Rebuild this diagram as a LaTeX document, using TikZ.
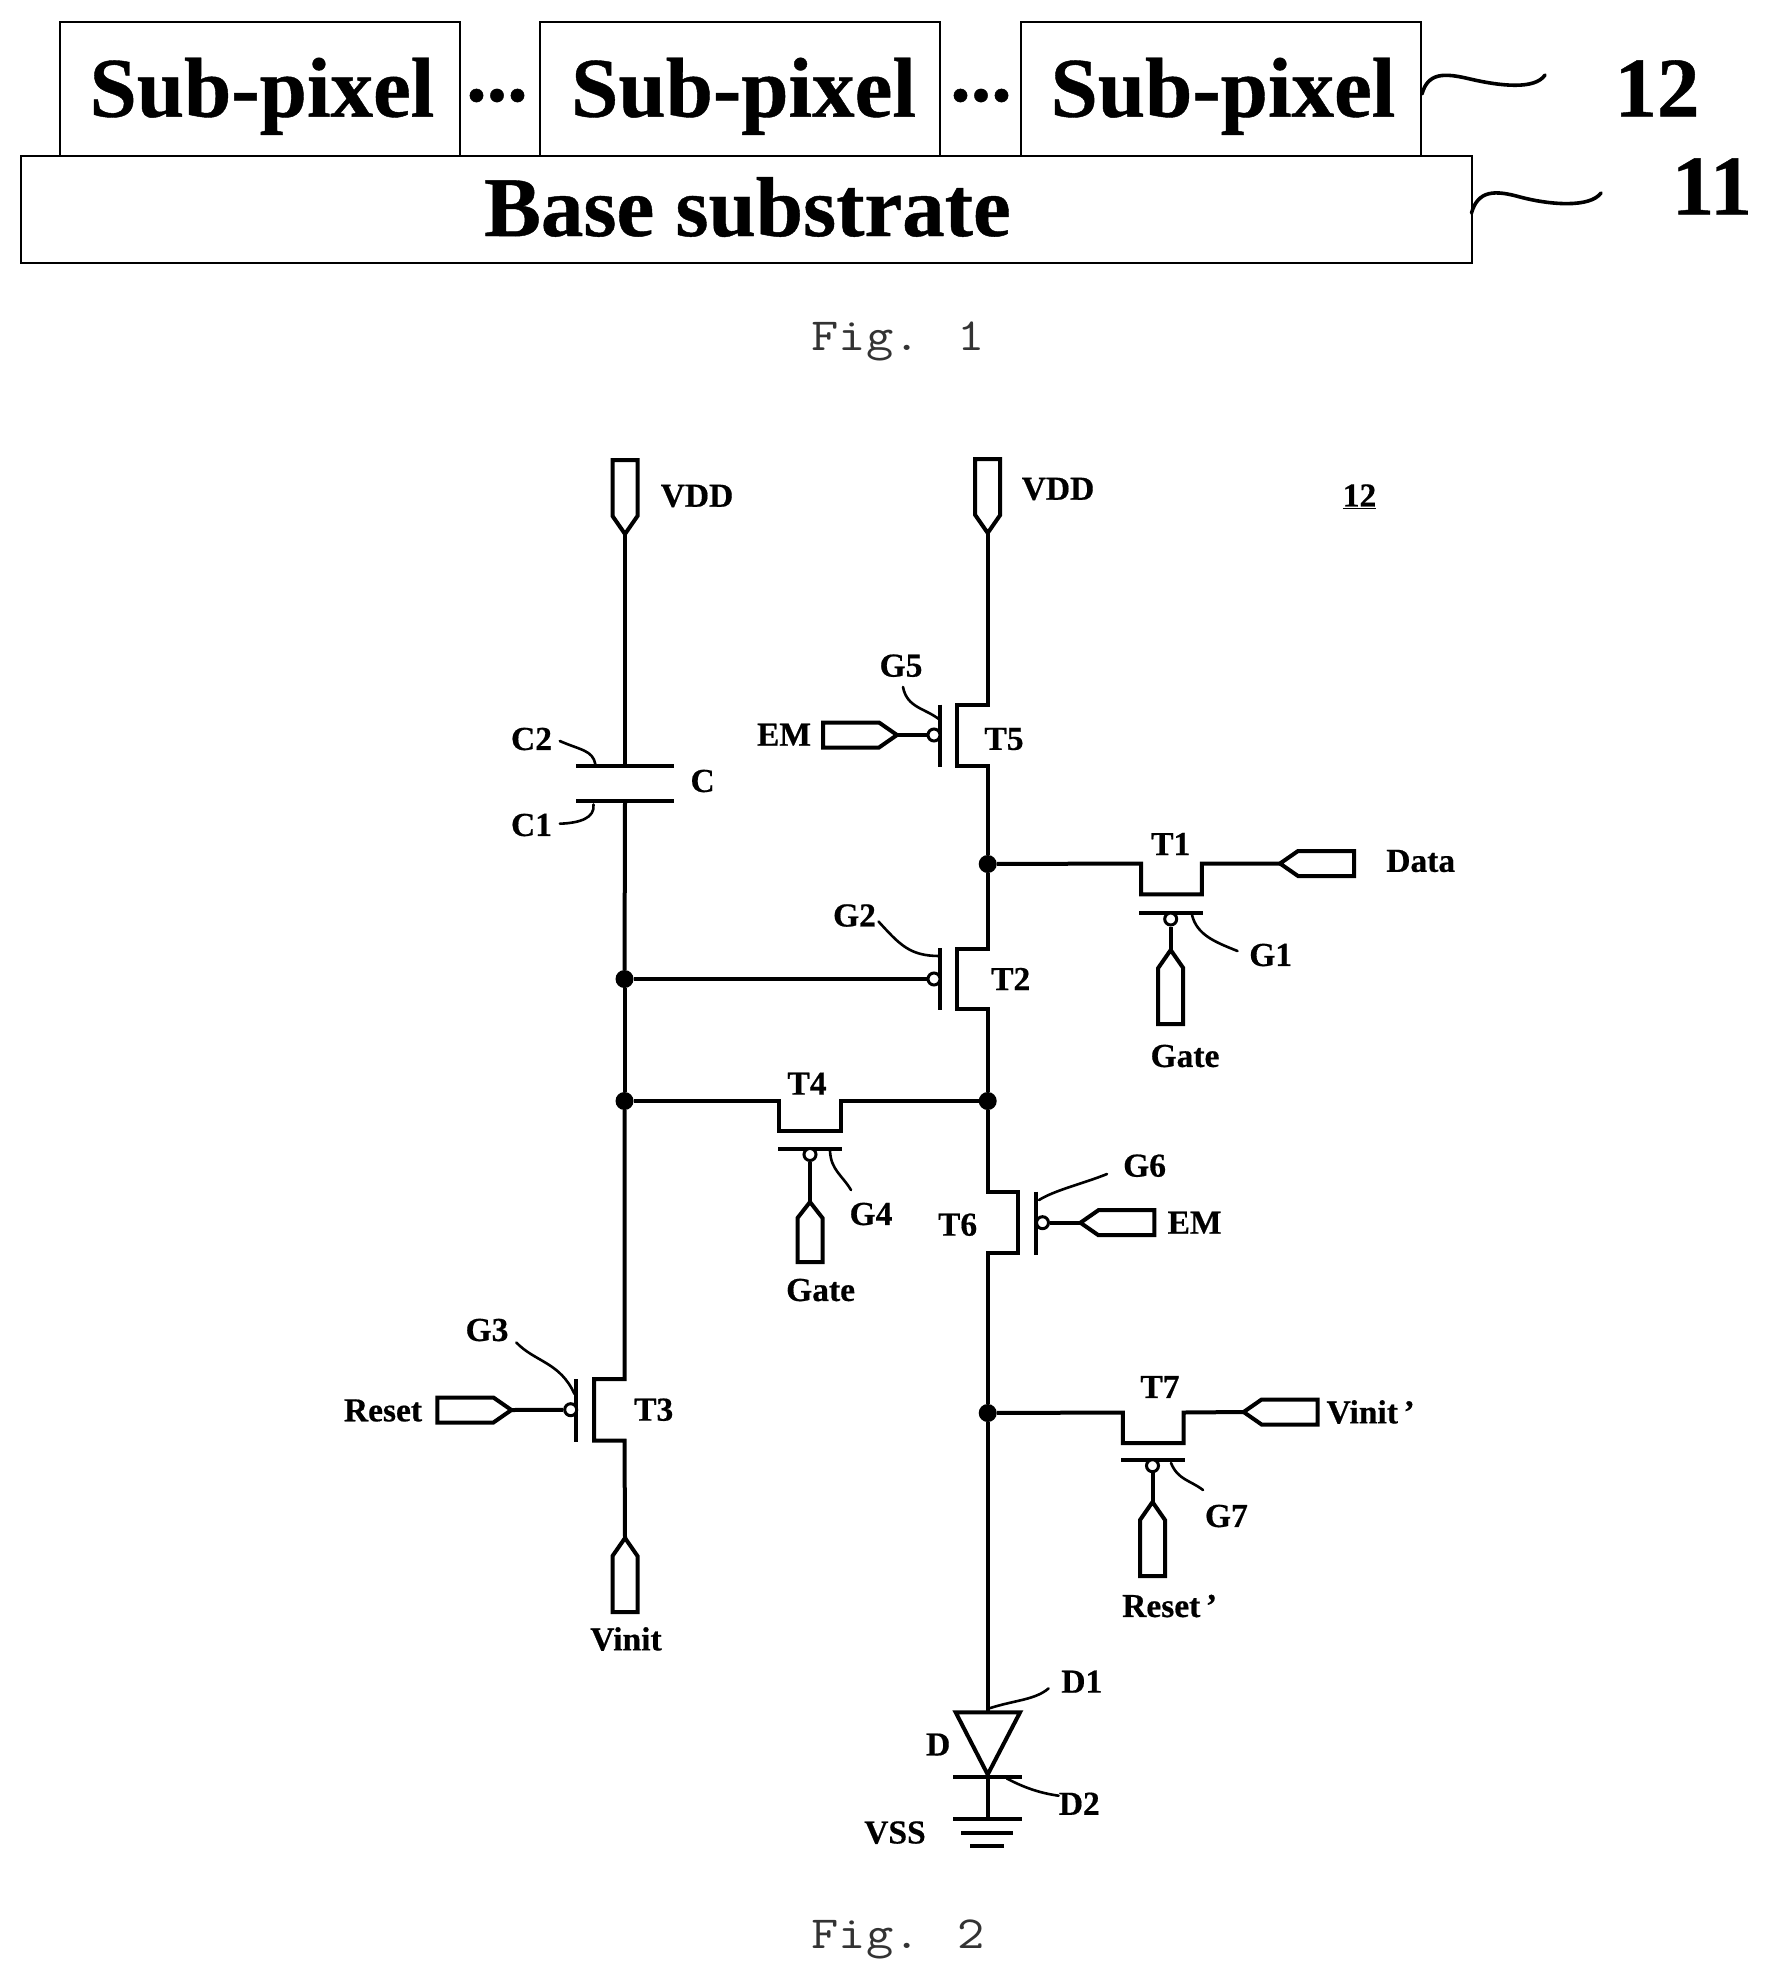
\documentclass[tikz,border=0pt]{standalone}
\usepackage{fontspec}
\setmainfont{Liberation Serif}[BoldFeatures={FakeBold=0.5}]
\tikzset{
  wire/.style={line width=4pt,line cap=butt,line join=miter},
  lead/.style={line width=2.6pt,line cap=round},
  boxln/.style={draw,line width=2pt,fill=white,inner sep=0pt},
  big/.style={inner sep=0pt,anchor=base,font=\fontsize{85}{85}\selectfont\bfseries},
  lbl/.style={inner sep=0pt,anchor=center,font=\fontsize{33.5}{34}\selectfont\bfseries},
  figl/.style={inner sep=0pt,anchor=base,text=black!80,font=\fontsize{46}{46}\ttfamily},
  dotn/.style={circle,fill=black,draw=none,minimum size=18pt,inner sep=0pt},
  bub/.style={circle,draw,fill=white,line width=3pt,minimum size=12pt,inner sep=0pt},
  pinshape/.pic={\draw[wire] (0,0) -- (18,12.5) -- (74,12.5) -- (74,-12.5) -- (18,-12.5) -- cycle;},
  pinshort/.pic={\draw[wire] (0,0) -- (16,12.5) -- (60,12.5) -- (60,-12.5) -- (16,-12.5) -- cycle;},
  tilde/.style={line width=3.6pt,line cap=round}
}
\begin{document}
\begin{tikzpicture}[x=1pt,y=-1pt]
\useasboundingbox (0,0) rectangle (1768,1978);
\fill[white] (0,0) rectangle (1768,1978);

% ---------- Fig. 1 ----------
\node[boxln,minimum width=400pt,minimum height=134pt,anchor=north west] (sp1) at (59,21) {};
\node[boxln,minimum width=400pt,minimum height=134pt,anchor=north west] (sp2) at (539,21) {};
\node[boxln,minimum width=400pt,minimum height=134pt,anchor=north west] (sp3) at (1020,21) {};
\node[boxln,minimum width=1451pt,minimum height=107pt,anchor=north west] (base) at (20,155) {};
\node[big] (t1) at (262,116.7) {Sub-pixel};
\node[big] (t2) at (743.6,116.7) {Sub-pixel};
\node[big] (t3) at (1223,116.7) {Sub-pixel};
\node[big,font=\fontsize{82}{82}\selectfont\bfseries] (d1) at (497,101) {...};
\node[big,font=\fontsize{82}{82}\selectfont\bfseries] (d2) at (981,101) {...};
\node[big] (t4) at (747.5,236) {Base substrate};
\node[big] (n12) at (1657,116.5) {12};
\node[big] (n11) at (1712,214.5) {11};
\coordinate (w12) at (1545,75);
\coordinate (w11) at (1601,193);
\draw[tilde] (sp3.east) ++(0,5) .. controls (1428,72) and (1445,73) .. (1470,79) .. controls (1500,86) and (1535,90) .. (w12);
\draw[tilde] (1471.5,213) .. controls (1478,190) and (1495,190) .. (1520,197) .. controls (1550,205) and (1590,208) .. (w11);
\node[figl] (f1) at (898,350) {\scalebox{1.15}[1]{Fig. 1}};

% ---------- Junctions ----------
\node[dotn] (jr1) at (987.7,864) {};
\node[dotn] (jl1) at (624.5,979) {};
\node[dotn] (jl2) at (624.5,1101) {};
\node[dotn] (jr2) at (987.7,1101) {};
\node[dotn] (jr3) at (987.7,1413) {};

% ---------- Pins ----------
\coordinate (vddL) at (625,534);
\coordinate (vddR) at (987.7,533);
\coordinate (emL) at (897,735);
\coordinate (data) at (1280,863.5);
\coordinate (gate1) at (1170.7,950);
\coordinate (emR) at (1080.4,1222.7);
\coordinate (gate2) at (810,1202);
\coordinate (reset) at (511.4,1410);
\coordinate (vinit) at (625,1538);
\coordinate (vinitp) at (1243.6,1412);
\coordinate (resetp) at (1152.5,1502);
\pic[rotate=90] at (vddL) {pinshape};
\pic[rotate=90] at (vddR) {pinshape};
\pic[rotate=180] at (emL) {pinshape};
\pic at (data) {pinshape};
\pic[rotate=-90] at (gate1) {pinshape};
\pic at (emR) {pinshape};
\pic[rotate=-90] at (gate2) {pinshort};
\pic[rotate=180] at (reset) {pinshape};
\pic[rotate=-90] at (vinit) {pinshape};
\pic at (vinitp) {pinshape};
\pic[rotate=-90] at (resetp) {pinshape};

% ---------- Capacitor and left rail ----------
\coordinate (cu) at (625,765.7);
\coordinate (cl) at (625,801.2);
\draw[wire] (vddL) -- (cu);
\draw[wire] (576,765.7) -- (674,765.7);
\draw[wire] (576,801.2) -- (674,801.2);
\draw[wire] (cl) -- (jl1);
\draw[wire] (jl1) -- (jl2);
% T3
\coordinate (t3t) at (624.5,1379);
\coordinate (t3b) at (624.5,1440.5);
\draw[wire] (jl2) -- (t3t) -- (594,1379) -- (594,1440.5) -- (t3b) -- (vinit);
\draw[wire] (576.4,1379) -- (576.4,1442);
\node[bub] (b3) at (570.7,1409.7) {};
\draw[wire] (reset) -- (b3);

% ---------- Right rail ----------
\coordinate (t5t) at (987.7,704.5);
\coordinate (t5b) at (987.7,765.7);
\coordinate (t2t) at (987.7,948.6);
\coordinate (t2b) at (987.7,1009.4);
\coordinate (t6t) at (987.7,1191.7);
\coordinate (t6b) at (987.7,1253.3);
\coordinate (dtop) at (987.7,1712.4);
\coordinate (dtip) at (987.7,1774.5);
\coordinate (gnd) at (987.7,1818.6);
\draw[wire] (vddR) -- (t5t) -- (957,704.5) -- (957,765.7) -- (t5b) -- (jr1);
\draw[wire] (jr1) -- (t2t) -- (957,948.6) -- (957,1009.4) -- (t2b) -- (jr2);
\draw[wire] (jr2) -- (t6t) -- (1018,1191.7) -- (1018,1253.3) -- (t6b) -- (jr3);
\draw[wire] (jr3) -- (dtop);
% T5
\draw[wire] (939.5,704.5) -- (939.5,766.5);
\node[bub] (b5) at (934,735) {};
\draw[wire] (emL) -- (b5);
% T2
\draw[wire] (939.5,948) -- (939.5,1010);
\node[bub] (b2) at (934,979) {};
\draw[wire] (jl1) -- (b2);
% T6
\draw[wire] (1036.4,1191.7) -- (1036.4,1255);
\node[bub] (b6) at (1042.5,1222.7) {};
\draw[wire] (emR) -- (b6);
% T1
\draw[wire] (jr1) -- (1141,863.5) -- (1141,894.3) -- (1201.8,894.3) -- (1201.8,863.5) -- (data);
\draw[wire] (1139,913.3) -- (1203,913.3);
\node[bub] (b1) at (1170.7,919) {};
\draw[wire] (gate1) -- (b1);
% T4
\draw[wire] (jl2) -- (779,1101) -- (779,1131) -- (840.5,1131) -- (840.5,1101) -- (jr2);
\draw[wire] (778,1148.8) -- (841.6,1148.8);
\node[bub] (b4) at (810,1154.5) {};
\draw[wire] (gate2) -- (b4);
% T7
\draw[wire] (jr3) -- (1122.9,1412.5) -- (1122.9,1443) -- (1183.6,1443) -- (1183.6,1412.5) -- (vinitp);
\draw[wire] (1121,1460) -- (1184.6,1460);
\node[bub] (b7) at (1152.5,1465.7) {};
\draw[wire] (resetp) -- (b7);
% Diode and ground
\draw[wire] (955.7,1712.4) -- (1020,1712.4) -- (dtip) -- cycle;
\draw[wire] (953,1777.3) -- (1021.8,1777.3);
\draw[wire] (dtip) -- (gnd);
\draw[wire] (953,1818.6) -- (1022,1818.6);
\draw[wire] (961.4,1832.6) -- (1013,1832.6);
\draw[wire] (970,1845.8) -- (1004,1845.8);

% ---------- Leaders ----------
\draw[lead] (559.8,741) .. controls (580,750) and (593,750) .. (595.4,764.5);
\draw[lead] (559.8,823.7) .. controls (580,823) and (595,818) .. (593.5,804.5);
\draw[lead] (903,687) .. controls (907,708) and (925,708) .. (939.5,719.6);
\draw[lead] (878.6,921.6) .. controls (900,945) and (910,956) .. (939.5,956);
\draw[lead] (1192,915) .. controls (1197,935) and (1215,942) .. (1237.5,951);
\draw[lead] (830,1151) .. controls (831,1170) and (842,1175) .. (851,1190);
\draw[lead] (1039,1200) .. controls (1055,1190) and (1085,1183) .. (1107,1174);
\draw[lead] (516.3,1342.5) .. controls (535,1362) and (560,1362) .. (574.5,1394);
\draw[lead] (1171,1463) .. controls (1178,1480) and (1190,1480) .. (1203,1490);
\draw[lead] (989,1708.4) .. controls (1015,1700) and (1035,1700) .. (1048.6,1688.4);
\draw[lead] (1006.8,1778.5) .. controls (1025,1788) and (1040,1793) .. (1058.6,1795.7);

% ---------- Labels ----------
\node[lbl] (lvdd1) at (697,496) {VDD};
\node[lbl] (lvdd2) at (1058,489) {VDD};
\node[lbl] (l12) at (1359.5,496.4) {\underline{12}};
\node[lbl] (lg5) at (901,665.7) {G5};
\node[lbl] (lem1) at (784,734.7) {EM};
\node[lbl] (lt5) at (1004,739) {T5};
\node[lbl] (lc2) at (531.5,739) {C2};
\node[lbl] (lc) at (702.6,781) {C};
\node[lbl] (lc1) at (531.5,825) {C1};
\node[lbl] (lt1) at (1170.7,844) {T1};
\node[lbl] (ldata) at (1420.7,861) {Data};
\node[lbl] (lg2) at (854.5,915.5) {G2};
\node[lbl] (lt2) at (1010.7,979) {T2};
\node[lbl] (lg1) at (1270.7,955) {G1};
\node[lbl] (lgate1) at (1185,1056) {Gate};
\node[lbl] (lt4) at (807,1083.6) {T4};
\node[lbl] (lg6) at (1144.6,1165.7) {G6};
\node[lbl] (lem2) at (1194.6,1222.7) {EM};
\node[lbl] (lt6) at (957.6,1224.7) {T6};
\node[lbl] (lg4) at (871,1214) {G4};
\node[lbl] (lgate2) at (820.6,1290) {Gate};
\node[lbl] (lg3) at (487,1330) {G3};
\node[lbl] (lreset) at (383,1410.5) {Reset};
\node[lbl] (lt3) at (653.7,1409.7) {T3};
\node[lbl] (lt7) at (1160,1387) {T7};
\node[lbl,anchor=west] (lvinitp) at (1326.4,1412) {Vinit\,’};
\node[lbl] (lg7) at (1226.4,1516) {G7};
\node[lbl,anchor=west] (lresetp) at (1122,1606) {Reset\,’};
\node[lbl] (lvinit) at (626,1639) {Vinit};
\node[lbl] (ld1) at (1081.8,1681.6) {D1};
\node[lbl] (ld) at (938.2,1744.5) {D};
\node[lbl] (ld2) at (1079.3,1803.7) {D2};
\node[lbl] (lvss) at (895,1832.6) {VSS};
\node[figl] (f2) at (898,1948.7) {\scalebox{1.15}[1]{Fig. 2}};
\end{tikzpicture}
\end{document}
